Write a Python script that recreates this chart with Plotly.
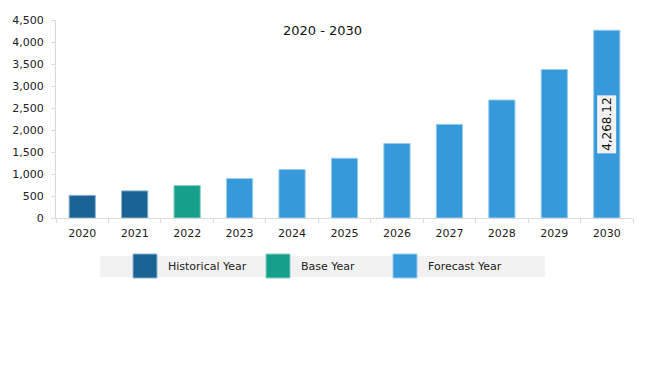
import plotly.graph_objects as go

years = ["2020", "2021", "2022", "2023", "2024", "2025", "2026", "2027", "2028", "2029", "2030"]
values = [515, 616, 737, 896, 1101, 1359, 1694, 2128, 2682, 3375, 4268.12]
kinds = ["Historical Year", "Historical Year", "Base Year"] + ["Forecast Year"] * 8
colors = {"Historical Year": "#1A6394", "Base Year": "#14A08A", "Forecast Year": "#3599DA"}
edge = {"Historical Year": "#8DB4CF", "Base Year": "#8ACFC4", "Forecast Year": "#9ACCEE"}
title_text = "2020 - 2030"
label_value = values[-1]

fig = go.Figure()
fig.add_trace(go.Bar(
    x=years, y=values,
    marker=dict(color=[colors[k] for k in kinds],
                line=dict(color=[edge[k] for k in kinds], width=1)),
    width=0.5, showlegend=False, hoverinfo="x+y",
))

font = "DejaVu Sans, Verdana, sans-serif"
W, H = 653, 366
ML, MR, MT, MB = 48, 28, 12, 156
OFF = 8  # page body offset

fig.update_layout(
    width=W, height=H,
    margin=dict(l=ML, r=MR, t=MT, b=MB, autoexpand=False),
    paper_bgcolor="white", plot_bgcolor="white",
    font=dict(family=font, size=11, color="#222"),
    xaxis=dict(type="category", range=[-0.5, len(years) - 0.5], showline=True,
               linecolor="#d9d9d9", linewidth=1, automargin=False,
               ticks="outside", tickson="boundaries", ticklen=4, tickcolor="#d9d9d9",
               ticklabelstandoff=5,
               showgrid=False, tickangle=0, tickfont=dict(size=11, color="#222")),
    yaxis=dict(range=[0, 4500], dtick=500, tickformat=",", showline=True,
               linecolor="#d9d9d9", linewidth=1, ticks="outside", ticklen=4,
               tickcolor="#d9d9d9", showgrid=False, zeroline=False, automargin=False,
               ticklabelstandoff=5,
               tickfont=dict(size=11, color="#222")),
)

def px_x(p):
    return (p - OFF - ML) / (W - ML - MR)

def px_y(p):
    return (H - MB - (p - OFF)) / (H - MT - MB)

# Title
fig.add_annotation(text=title_text, xref="paper", yref="paper", x=px_x(322), y=px_y(30),
                   showarrow=False, font=dict(size=13, color="#111", family=font),
                   xanchor="center", yanchor="middle")

# Data label on last bar (category index)
fig.add_annotation(text=f"{label_value:,.2f}", x=len(years) - 1, y=label_value / 2,
                   textangle=-90, showarrow=False, bgcolor="#f2f2f2",
                   borderpad=2, font=dict(size=12, color="#111", family=font))

# Custom legend
fig.add_shape(type="rect", xref="paper", yref="paper",
              x0=px_x(100), x1=px_x(545), y0=px_y(277), y1=px_y(256),
              fillcolor="#f2f2f2", line=dict(width=0), layer="below")
legend_items = [("Historical Year", 133, 166), ("Base Year", 266, 299), ("Forecast Year", 393, 426)]
for name, sx, tx in legend_items:
    fig.add_shape(type="rect", xref="paper", yref="paper",
                  x0=px_x(sx), x1=px_x(sx + 24), y0=px_y(278), y1=px_y(254),
                  fillcolor=colors[name], line=dict(color=edge[name], width=1))
    fig.add_annotation(text=name, xref="paper", yref="paper", x=px_x(tx), y=px_y(266.5),
                       xanchor="left", yanchor="middle", showarrow=False,
                       font=dict(size=11, color="#222", family=font))

fig.write_html("out.html")
